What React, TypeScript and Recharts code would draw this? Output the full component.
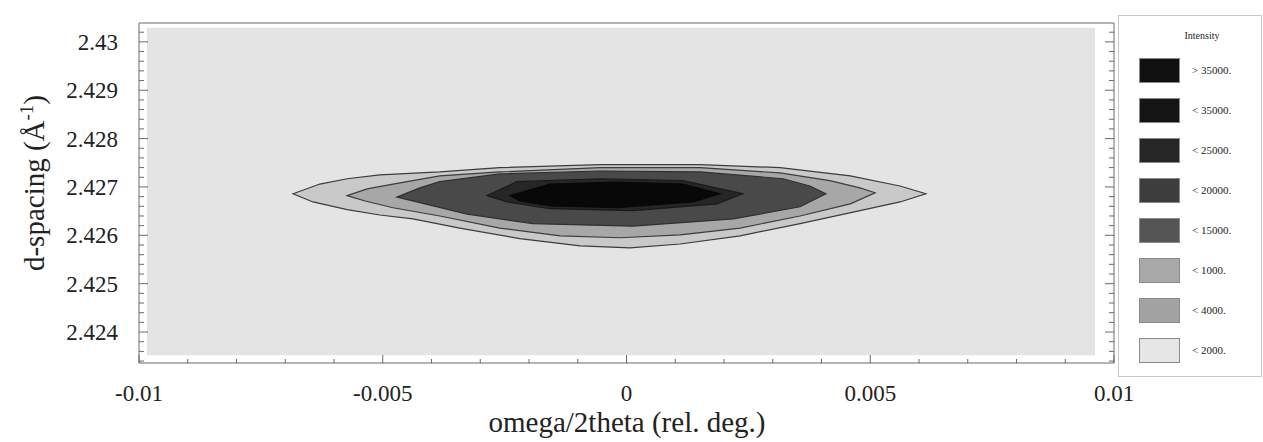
import { ScatterChart, Scatter, XAxis, YAxis } from 'recharts';

// contour levels, outermost first; each is the outline of one filled region
const levelBackground: [number, number][] = [
  [-0.00984, 2.43029],
  [0.00961, 2.43029],
  [0.00961, 2.42352],
  [-0.00984, 2.42352],
];

const levelOuter: [number, number][] = [
  [-0.00684, 2.42686], [-0.00629, 2.42706], [-0.00573, 2.42717], [-0.00506, 2.42725],
  [-0.00383, 2.42731], [-0.0026, 2.4274], [-0.00054, 2.42746], [0.00151, 2.42746],
  [0.00315, 2.4274], [0.00459, 2.42723], [0.00561, 2.42702], [0.00614, 2.42686],
  [0.00561, 2.42669], [0.00479, 2.42651], [0.00356, 2.42624], [0.00233, 2.42599],
  [0.0011, 2.42582], [0.00007, 2.42574], [-0.00095, 2.42578], [-0.00219, 2.42593],
  [-0.00342, 2.42615], [-0.00438, 2.42634], [-0.00506, 2.42642], [-0.00573, 2.42653],
  [-0.00643, 2.42669],
];

const levelSecond: [number, number][] = [
  [-0.00573, 2.42682], [-0.00532, 2.42696], [-0.00479, 2.42706], [-0.00383, 2.42723],
  [-0.0026, 2.42731], [-0.00054, 2.4274], [0.00151, 2.4274], [0.00315, 2.42729],
  [0.00417, 2.42713], [0.00479, 2.42698], [0.0051, 2.42688], [0.00459, 2.42665],
  [0.00356, 2.4264], [0.00233, 2.42615], [0.0011, 2.42601], [-0.00013, 2.42595],
  [-0.00136, 2.42599], [-0.0026, 2.42615], [-0.00383, 2.4264], [-0.00479, 2.42657],
  [-0.00536, 2.42671],
];

const levelDark: [number, number][] = [
  [-0.00471, 2.42679], [-0.00424, 2.42698], [-0.00383, 2.42711], [-0.0026, 2.42727],
  [-0.00054, 2.42733], [0.00151, 2.42731], [0.00321, 2.42717], [0.00376, 2.42702],
  [0.00409, 2.42686], [0.00356, 2.42659], [0.00219, 2.42634], [0.00013, 2.42619],
  [-0.00192, 2.42624], [-0.00327, 2.42644], [-0.0043, 2.42669],
];

const levelDarker: [number, number][] = [
  [-0.00286, 2.42682], [-0.00225, 2.42711], [-0.00054, 2.42717], [0.00116, 2.42713],
  [0.00239, 2.42686], [0.00186, 2.42665], [0.00013, 2.42651], [-0.00157, 2.42655],
  [-0.00245, 2.42669],
];

const levelCore: [number, number][] = [
  [-0.00239, 2.42682], [-0.00157, 2.42706], [-0.00019, 2.4271], [0.00116, 2.42706],
  [0.00192, 2.42686], [0.00136, 2.42669], [-0.00019, 2.42657], [-0.00157, 2.42661],
  [-0.00219, 2.42671],
];

const levels = [
  { name: 'bg', points: levelBackground, fill: '#e4e4e4', stroke: 'none' },
  { name: 'outer', points: levelOuter, fill: '#c9c9c9', stroke: '#3c3c3c' },
  { name: 'second', points: levelSecond, fill: '#a7a7a7', stroke: '#3c3c3c' },
  { name: 'dark', points: levelDark, fill: '#494949', stroke: '#303030' },
  { name: 'darker', points: levelDarker, fill: '#262626', stroke: '#1a1a1a' },
  { name: 'core', points: levelCore, fill: '#080808', stroke: '#080808' },
];

// axes
const xDomain = [-0.01, 0.01];
const yDomain = [2.42336, 2.43039];
const xTicks = [
  -0.01, -0.009, -0.008, -0.007, -0.006, -0.005, -0.004, -0.003, -0.002, -0.001, 0,
  0.001, 0.002, 0.003, 0.004, 0.005, 0.006, 0.007, 0.008, 0.009, 0.01,
];
const xMajor = [-0.01, -0.005, 0, 0.005, 0.01];
const xMajorLabels = ['-0.01', '-0.005', '0', '0.005', '0.01'];
const yTicks = [
  2.4234, 2.4236, 2.4238, 2.424, 2.4242, 2.4244, 2.4246, 2.4248, 2.425, 2.4252, 2.4254,
  2.4256, 2.4258, 2.426, 2.4262, 2.4264, 2.4266, 2.4268, 2.427, 2.4272, 2.4274, 2.4276,
  2.4278, 2.428, 2.4282, 2.4284, 2.4286, 2.4288, 2.429, 2.4292, 2.4294, 2.4296, 2.4298,
  2.43, 2.4302,
];
const yMajor = [2.424, 2.425, 2.426, 2.427, 2.428, 2.429, 2.43];
const yMajorLabels = ['2.424', '2.425', '2.426', '2.427', '2.428', '2.429', '2.43'];

// legend
const legendLabels = ['> 35000.', '< 35000.', '< 25000.', '< 20000.', '< 15000.', '< 1000.', '< 4000.', '< 2000.'];
const legendColors = ['#101010', '#141414', '#262626', '#3d3d3d', '#555555', '#a9a9a9', '#a3a3a3', '#e6e6e6'];

const FONT = '"Liberation Serif", "DejaVu Serif", serif';
const FRAME = '#6a6a6a';
const TEXT = '#222';

const findLabel = (v: number, majors: number[], labels: string[]) => {
  const i = majors.findIndex((m) => Math.abs(m - v) < 1e-9);
  return i < 0 ? null : labels[i];
};

const BottomTick = ({ x, y, payload }: any) => {
  const label = findLabel(payload.value, xMajor, xMajorLabels);
  return (
    <g>
      <line x1={x} y1={y} x2={x} y2={y - (label ? 8 : 4)} stroke={FRAME} />
      {label && (
        <text x={x} y={y + 38} textAnchor="middle" fontFamily={FONT} fontSize={23} fill={TEXT}>
          {label}
        </text>
      )}
    </g>
  );
};

const TopTick = ({ x, y, payload }: any) => {
  const label = findLabel(payload.value, xMajor, xMajorLabels);
  return <line x1={x} y1={y} x2={x} y2={y + (label ? 8 : 4)} stroke={FRAME} />;
};

const LeftTick = ({ x, y, payload }: any) => {
  const label = findLabel(payload.value, yMajor, yMajorLabels);
  return (
    <g>
      <line x1={x} y1={y} x2={x + (label ? 9 : 5)} y2={y} stroke={FRAME} />
      {label && (
        <text x={x - 21} y={y} dy="0.35em" textAnchor="end" fontFamily={FONT} fontSize={23} fill={TEXT}>
          {label}
        </text>
      )}
    </g>
  );
};

const RightTick = ({ x, y, payload }: any) => {
  const label = findLabel(payload.value, yMajor, yMajorLabels);
  return <line x1={x} y1={y} x2={x - (label ? 9 : 5)} y2={y} stroke={FRAME} />;
};

const XTitle = () => (
  <text x={627} y={432} textAnchor="middle" fontFamily={FONT} fontSize={29} fill={TEXT}>
    omega/2theta (rel. deg.)
  </text>
);

const YTitle = () => (
  <text
    x={44}
    y={183}
    transform="rotate(-90 44 183)"
    textAnchor="middle"
    fontFamily={FONT}
    fontSize={29}
    fill={TEXT}
  >
    d-spacing (Å
    <tspan dy={-11} fontSize={19}>-1</tspan>
    <tspan dy={11}>)</tspan>
  </text>
);

const renderNone = () => <g />;

function IntensityLegend() {
  return (
    <svg
      width={144}
      height={362}
      style={{ position: 'absolute', left: 1118, top: 15 }}
    >
      <rect x={0.5} y={0.5} width={143} height={361} fill="#fff" stroke="#c8c8c8" />
      <text x={84} y={24} textAnchor="middle" fontFamily={FONT} fontSize={10} fill={TEXT}>
        Intensity
      </text>
      {legendLabels.map((label, i) => (
        <g key={label}>
          <rect x={21.5} y={43.5 + i * 40} width={40} height={24} fill={legendColors[i]} stroke="#8a8a8a" />
          <text x={74} y={59 + i * 40} fontFamily={FONT} fontSize={11} fill={TEXT}>
            {label}
          </text>
        </g>
      ))}
    </svg>
  );
}

export default function App() {
  return (
    <div style={{ position: 'absolute', left: 0, top: 0, width: 1263, height: 442, background: '#fff' }}>
      <ScatterChart width={1263} height={442} margin={{ top: 13, right: 139, bottom: 49, left: 79 }}>
        <XAxis
          type="number"
          dataKey="x"
          domain={xDomain}
          ticks={xTicks}
          interval={0}
          allowDataOverflow
          height={30}
          tickSize={0}
          tickMargin={0}
          tickLine={false}
          axisLine={{ stroke: FRAME }}
          tick={<BottomTick />}
          label={<XTitle />}
        />
        <XAxis
          xAxisId="top"
          orientation="top"
          type="number"
          domain={xDomain}
          ticks={xTicks}
          interval={0}
          allowDataOverflow
          height={10}
          tickSize={0}
          tickMargin={0}
          tickLine={false}
          axisLine={{ stroke: FRAME }}
          tick={<TopTick />}
        />
        <YAxis
          type="number"
          dataKey="y"
          domain={yDomain}
          ticks={yTicks}
          interval={0}
          allowDataOverflow
          width={60}
          tickSize={0}
          tickMargin={0}
          tickLine={false}
          axisLine={{ stroke: FRAME }}
          tick={<LeftTick />}
          label={<YTitle />}
        />
        <YAxis
          yAxisId="right"
          orientation="right"
          type="number"
          domain={yDomain}
          ticks={yTicks}
          interval={0}
          allowDataOverflow
          width={10}
          tickSize={0}
          tickMargin={0}
          tickLine={false}
          axisLine={{ stroke: FRAME }}
          tick={<RightTick />}
        />
        {levels.map((lv) => (
          <Scatter
            key={lv.name}
            name={lv.name}
            data={lv.points.map(([x, y]) => ({ x, y }))}
            shape={renderNone}
            line={{ fill: lv.fill, stroke: lv.stroke, strokeWidth: 1.2 }}
            lineType="joint"
            lineJointType="linearClosed"
            isAnimationActive={false}
          />
        ))}
      </ScatterChart>
      <IntensityLegend />
    </div>
  );
}
